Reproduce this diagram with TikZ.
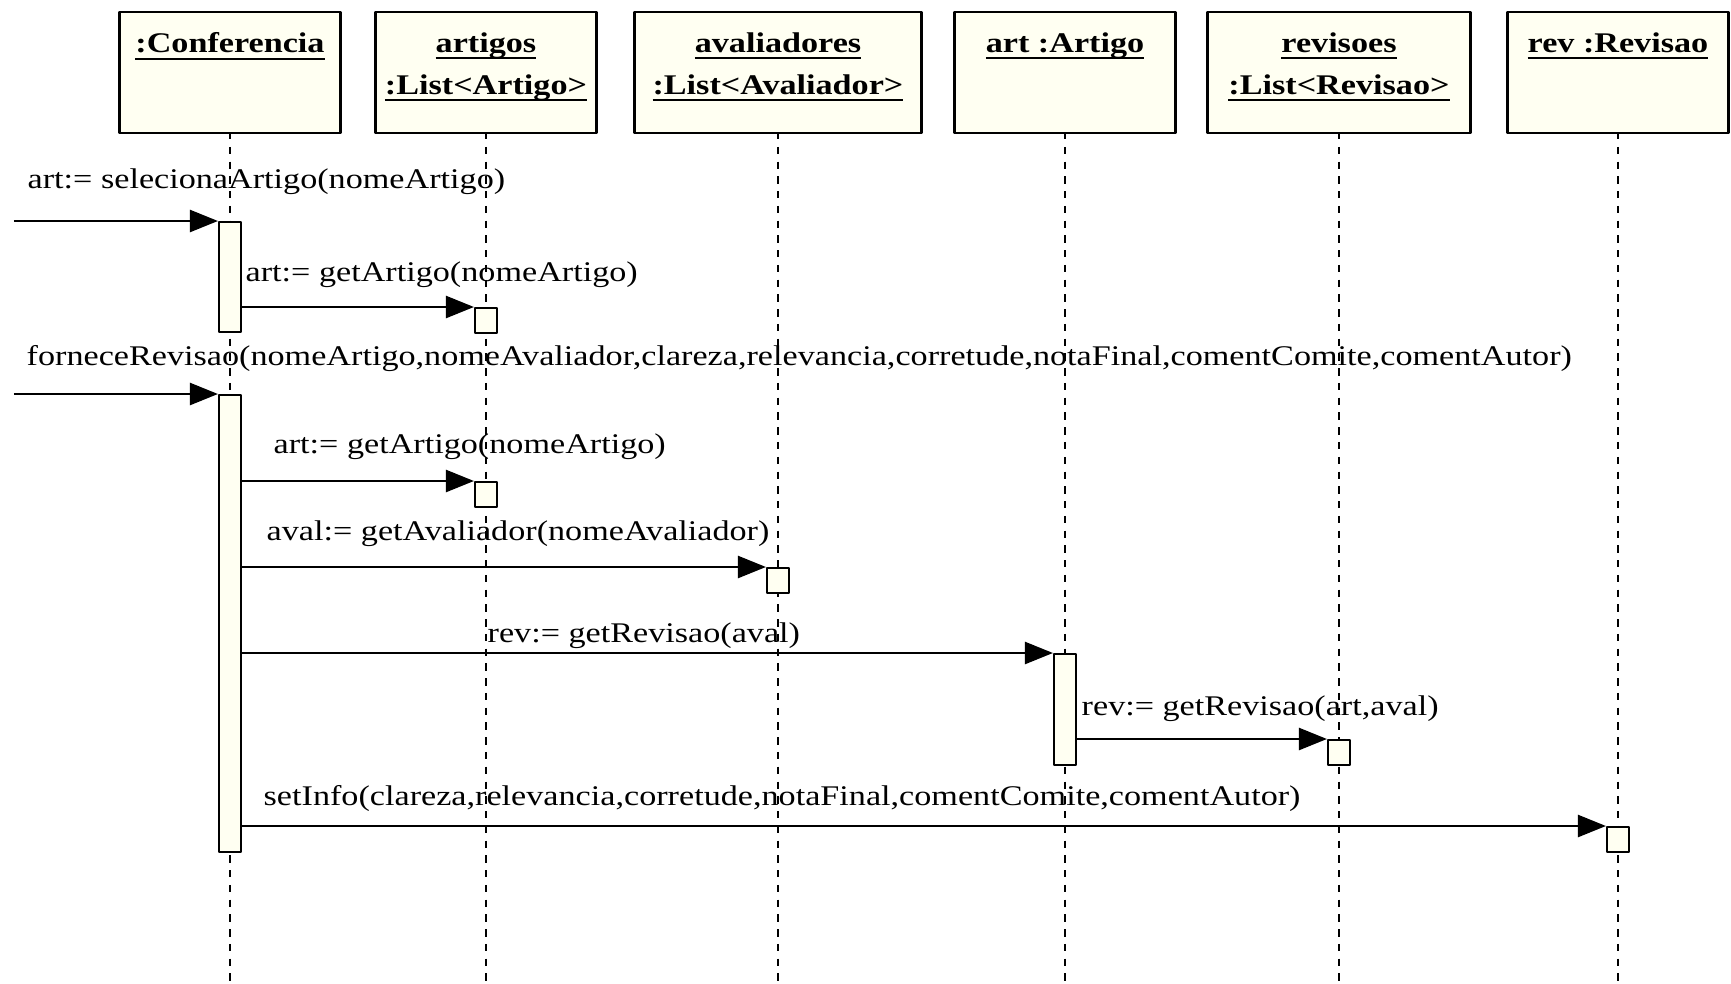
\documentclass[tikz,border=0pt]{standalone}
\usepackage{fontspec}
\setmainfont{Liberation Serif}[FakeStretch=1.2]
\usetikzlibrary{arrows.meta}
\definecolor{cream}{RGB}{255,255,242}
\newcommand\objname[1]{\setbox0\hbox{#1}\rlap{\rule[-0.07cm]{\wd0}{0.6pt}}\box0}

\begin{document}
\begin{tikzpicture}[font=\fontsize{8.1}{11.9}\selectfont, line join=round, >={Triangle[length=2.8mm,width=2.2mm]},
	obj/.style={draw, line width=0.6pt, fill=cream, anchor=north, minimum height=1.21cm, inner sep=0pt},
	objtitle/.style={font=\fontsize{8.1}{11.9}\selectfont\bfseries, align=center, anchor=north, inner sep=0pt},
	life/.style={line width=0.7pt, dash pattern=on 2.1pt off 2.1pt},
	act/.style={draw, line width=0.6pt, fill=cream, anchor=north, minimum width=0.22cm, minimum height=0.245cm, inner sep=0pt},
	msg/.style={->, line width=0.7pt},
	lbl/.style={anchor=base west, inner sep=0pt}]
	\useasboundingbox (0,0) rectangle (17.31,-9.84);
	\foreach \n/\x/\w/\t in {conf/2.30/2.21/{\objname{:Conferencia}},
		artigos/4.86/2.21/{\objname{artigos}\\\objname{:List<Artigo>}},
		avaliadores/7.78/2.87/{\objname{avaliadores}\\\objname{:List<Avaliador>}},
		art/10.65/2.21/{\objname{art :Artigo}},
		revisoes/13.39/2.63/{\objname{revisoes}\\\objname{:List<Revisao>}},
		rev/16.18/2.21/{\objname{rev :Revisao}}}
	{
		\draw[life] (\x,-1.32) -- (\x,-9.84);
		\node[obj, minimum width=\w cm] (\n) at (\x,-0.11) {};
		\node[objtitle] (\n-t) at (\x,-0.32) {\t};
	}
	\path
	(0.14,-2.21) coordinate (in1)
	(0.14,-3.94) coordinate (in2)
	;
	\node[act, minimum height=1.10cm] (c1) at (2.30,-2.21) {};
	\node[act] (a1) at (4.86,-3.07) {};
	\node[act, minimum height=4.57cm] (c2) at (2.30,-3.94) {};
	\node[act] (a2) at (4.86,-4.81) {};
	\node[act] (v1) at (7.78,-5.67) {};
	\node[act, minimum height=1.11cm] (r1) at (10.65,-6.53) {};
	\node[act] (s1) at (13.39,-7.39) {};
	\node[act] (e1) at (16.18,-8.26) {};
	\draw[msg] (in1) -- (c1.north west);
	\draw[msg] (c1.east |- a1.north) -- (a1.north west);
	\draw[msg] (in2) -- (c2.north west);
	\draw[msg] (c2.east |- a2.north) -- (a2.north west);
	\draw[msg] (c2.east |- v1.north) -- (v1.north west);
	\draw[msg] (c2.east |- r1.north) -- (r1.north west);
	\draw[msg] (r1.east |- s1.north) -- (s1.north west);
	\draw[msg] (c2.east |- e1.north) -- (e1.north west);
	\node[lbl] (m1) at (0.27,-1.88) {art:= selecionaArtigo(nomeArtigo)};
	\node[lbl] (m2) at (2.45,-2.81) {art:= getArtigo(nomeArtigo)};
	\node[lbl] (m3) at (0.26,-3.65) {forneceRevisao(nomeArtigo,nomeAvaliador,clareza,relevancia,corretude,notaFinal,comentComite,comentAutor)};
	\node[lbl] (m4) at (2.73,-4.53) {art:= getArtigo(nomeArtigo)};
	\node[lbl] (m5) at (2.66,-5.40) {aval:= getAvaliador(nomeAvaliador)};
	\node[lbl] (m6) at (4.87,-6.42) {rev:= getRevisao(aval)};
	\node[lbl] (m7) at (10.81,-7.15) {rev:= getRevisao(art,aval)};
	\node[lbl] (m8) at (2.63,-8.05) {setInfo(clareza,relevancia,corretude,notaFinal,comentComite,comentAutor)};
\end{tikzpicture}
\end{document}
